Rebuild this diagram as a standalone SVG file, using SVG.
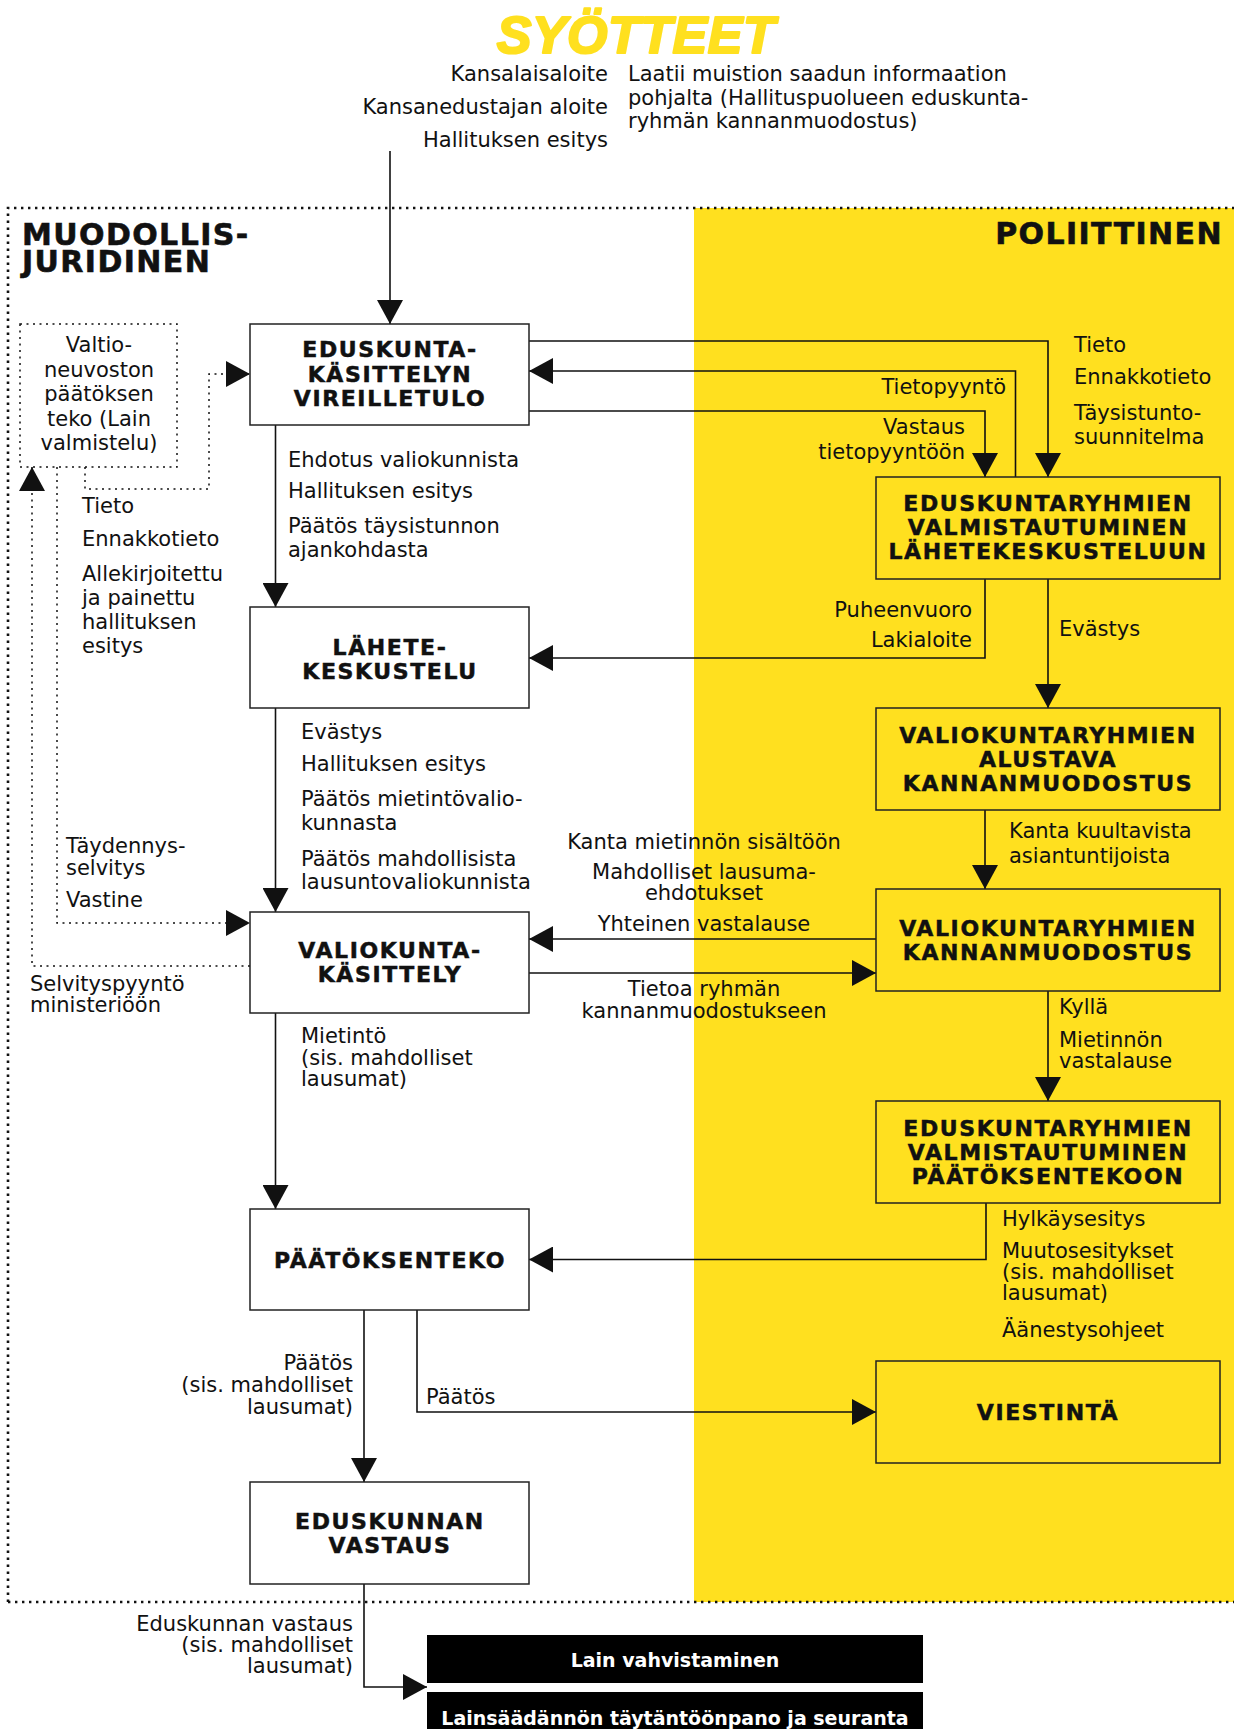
<svg xmlns="http://www.w3.org/2000/svg" width="1234" height="1729" viewBox="0 0 1234 1729">
<defs>
<style>
.t{font-family:"DejaVu Sans",sans-serif;font-size:21px;fill:#111}
.e{text-anchor:end}
.m{text-anchor:middle}
.h{font-family:"DejaVu Sans",sans-serif;font-weight:bold;font-size:22px;letter-spacing:1.6px;text-anchor:middle;fill:#111;stroke:#111;stroke-width:0.5}
.sec{font-family:"DejaVu Sans",sans-serif;font-weight:bold;font-size:30px;letter-spacing:1.4px;fill:#111;stroke:#111;stroke-width:0.6}
.box{fill:#fff;stroke:#222;stroke-width:1.5}
.ybox{fill:#FFE01F;stroke:#222;stroke-width:1.5}
.ln{fill:none;stroke:#111;stroke-width:1.6}
.dl{fill:none;stroke:#111;stroke-width:1.5;stroke-dasharray:2 4.5}
.blk{fill:#000}
.wt{font-family:"DejaVu Sans",sans-serif;font-weight:bold;font-size:19px;fill:#fff;text-anchor:middle}
</style>
<marker id="ah" markerUnits="userSpaceOnUse" markerWidth="24" markerHeight="26" refX="24" refY="13" orient="auto" viewBox="0 0 24 26"><path d="M0,0L24,13L0,26z" fill="#111"/></marker>
</defs>
<rect x="0" y="0" width="1234" height="1729" fill="#fff"/>
<g id="background">
<rect x="694" y="208" width="540" height="1394" fill="#FFE01F"/>
<path d="M8,1602V208H1234M8,1602H1234" fill="none" stroke="#111" stroke-width="2.6" stroke-dasharray="2.4 4.6"/>
<text x="636" y="53" font-family="'Liberation Sans',Arial,sans-serif" font-weight="900" font-style="italic" font-size="52" letter-spacing="0.5" fill="#FFE01F" stroke="#FFE01F" stroke-width="2.2" stroke-linejoin="round" text-anchor="middle">SYÖTTEET</text>
<text class="sec" x="22" y="245">MUODOLLIS-<tspan x="22" dy="27">JURIDINEN</tspan></text>
<text class="sec" x="1223" y="244" text-anchor="end" letter-spacing="2.3">POLIITTINEN</text>
<text class="t e" x="608" y="81">Kansalaisaloite</text>
<text class="t e" x="608" y="114">Kansanedustajan aloite</text>
<text class="t e" x="608" y="147">Hallituksen esitys</text>
<text class="t" x="628" y="81">Laatii muistion saadun informaation</text>
<text class="t" x="628" y="105">pohjalta (Hallituspuolueen eduskunta-</text>
<text class="t" x="628" y="128">ryhmän kannanmuodostus)</text>
</g>
<g id="connectors">
<path class="ln" d="M390,151V324" marker-end="url(#ah)"/>
<path class="ln" d="M275.5,425V607" marker-end="url(#ah)"/>
<path class="ln" d="M275.5,708V912" marker-end="url(#ah)"/>
<path class="ln" d="M275.5,1013V1209" marker-end="url(#ah)"/>
<path class="ln" d="M364,1310V1482" marker-end="url(#ah)"/>
<path class="ln" d="M417,1310V1412H876" marker-end="url(#ah)"/>
<path class="ln" d="M364,1584V1687H427" marker-end="url(#ah)"/>
<path class="ln" d="M529,341H1048V477" marker-end="url(#ah)"/>
<path class="ln" d="M1015.5,477V371H529" marker-end="url(#ah)"/>
<path class="ln" d="M529,411H985V477" marker-end="url(#ah)"/>
<path class="ln" d="M985,579V658H529" marker-end="url(#ah)"/>
<path class="ln" d="M1048,579V708" marker-end="url(#ah)"/>
<path class="ln" d="M985,810V889" marker-end="url(#ah)"/>
<path class="ln" d="M876,939H529" marker-end="url(#ah)"/>
<path class="ln" d="M529,973H876" marker-end="url(#ah)"/>
<path class="ln" d="M1048,991V1101" marker-end="url(#ah)"/>
<path class="ln" d="M986,1203V1259.5H529" marker-end="url(#ah)"/>
<path class="dl" d="M85,467V489H209V374H250" marker-end="url(#ah)"/>
<path class="dl" d="M250,966H32V467" marker-end="url(#ah)"/>
<path class="dl" d="M57,467V923H250" marker-end="url(#ah)"/>
</g>
<g id="edge-labels">
<text class="t" x="288" y="467">Ehdotus valiokunnista</text>
<text class="t" x="288" y="498">Hallituksen esitys</text>
<text class="t" x="288" y="533">Päätös täysistunnon</text>
<text class="t" x="288" y="557">ajankohdasta</text>
<text class="t" x="301" y="739">Evästys</text>
<text class="t" x="301" y="771">Hallituksen esitys</text>
<text class="t" x="301" y="806">Päätös mietintövalio-</text>
<text class="t" x="301" y="830">kunnasta</text>
<text class="t" x="301" y="866">Päätös mahdollisista</text>
<text class="t" x="301" y="889">lausuntovaliokunnista</text>
<text class="t" x="301" y="1043">Mietintö</text>
<text class="t" x="301" y="1065">(sis. mahdolliset</text>
<text class="t" x="301" y="1086">lausumat)</text>
<text class="t e" x="353" y="1370">Päätös</text>
<text class="t e" x="353" y="1392">(sis. mahdolliset</text>
<text class="t e" x="353" y="1414">lausumat)</text>
<text class="t" x="426" y="1404">Päätös</text>
<text class="t e" x="353" y="1631">Eduskunnan vastaus</text>
<text class="t e" x="353" y="1652">(sis. mahdolliset</text>
<text class="t e" x="353" y="1673">lausumat)</text>
<text class="t" x="82" y="513">Tieto</text>
<text class="t" x="82" y="546">Ennakkotieto</text>
<text class="t" x="82" y="581">Allekirjoitettu</text>
<text class="t" x="82" y="605">ja painettu</text>
<text class="t" x="82" y="629">hallituksen</text>
<text class="t" x="82" y="653">esitys</text>
<text class="t" x="66" y="853">Täydennys-</text>
<text class="t" x="66" y="875">selvitys</text>
<text class="t" x="66" y="907">Vastine</text>
<text class="t" x="30" y="991">Selvityspyyntö</text>
<text class="t" x="30" y="1012">ministeriöön</text>
<text class="t" x="1074" y="352">Tieto</text>
<text class="t" x="1074" y="384">Ennakkotieto</text>
<text class="t" x="1074" y="420">Täysistunto-</text>
<text class="t" x="1074" y="444">suunnitelma</text>
<text class="t e" x="1006" y="394">Tietopyyntö</text>
<text class="t e" x="965" y="434">Vastaus</text>
<text class="t e" x="965" y="459">tietopyyntöön</text>
<text class="t e" x="972" y="617">Puheenvuoro</text>
<text class="t e" x="972" y="647">Lakialoite</text>
<text class="t" x="1059" y="636">Evästys</text>
<text class="t" x="1009" y="838">Kanta kuultavista</text>
<text class="t" x="1009" y="863">asiantuntijoista</text>
<text class="t m" x="704" y="849">Kanta mietinnön sisältöön</text>
<text class="t m" x="704" y="879">Mahdolliset lausuma-</text>
<text class="t m" x="704" y="900">ehdotukset</text>
<text class="t m" x="704" y="931">Yhteinen vastalause</text>
<text class="t m" x="704" y="996">Tietoa ryhmän</text>
<text class="t m" x="704" y="1018">kannanmuodostukseen</text>
<text class="t" x="1059" y="1014">Kyllä</text>
<text class="t" x="1059" y="1047">Mietinnön</text>
<text class="t" x="1059" y="1068">vastalause</text>
<text class="t" x="1002" y="1226">Hylkäysesitys</text>
<text class="t" x="1002" y="1258">Muutosesitykset</text>
<text class="t" x="1002" y="1279">(sis. mahdolliset</text>
<text class="t" x="1002" y="1300">lausumat)</text>
<text class="t" x="1002" y="1337">Äänestysohjeet</text>
</g>
<g id="valtioneuvosto">
<rect x="20" y="324" width="157" height="143" fill="none" stroke="#111" stroke-width="1.5" stroke-dasharray="2 4.5"/>
<text class="t m" x="99" y="352">Valtio-</text>
<text class="t m" x="99" y="376.5">neuvoston</text>
<text class="t m" x="99" y="401">päätöksen</text>
<text class="t m" x="99" y="425.5">teko (Lain</text>
<text class="t m" x="99" y="450">valmistelu)</text>
</g>
<g id="vireilletulo">
<rect class="box" x="250" y="324" width="279" height="101"/>
<text class="h" x="390" y="357">EDUSKUNTA-</text>
<text class="h" x="390" y="382">KÄSITTELYN</text>
<text class="h" x="390" y="406">VIREILLETULO</text>
</g>
<g id="lahetekeskustelu">
<rect class="box" x="250" y="607" width="279" height="101"/>
<text class="h" x="390" y="655">LÄHETE-</text>
<text class="h" x="390" y="679">KESKUSTELU</text>
</g>
<g id="valiokuntakasittely">
<rect class="box" x="250" y="912" width="279" height="101"/>
<text class="h" x="390" y="958">VALIOKUNTA-</text>
<text class="h" x="390" y="982">KÄSITTELY</text>
</g>
<g id="paatoksenteko">
<rect class="box" x="250" y="1209" width="279" height="101"/>
<text class="h" x="390" y="1268">PÄÄTÖKSENTEKO</text>
</g>
<g id="eduskunnan-vastaus">
<rect class="box" x="250" y="1482" width="279" height="102"/>
<text class="h" x="390" y="1529">EDUSKUNNAN</text>
<text class="h" x="390" y="1553">VASTAUS</text>
</g>
<g id="ryhmat-lahete">
<rect class="ybox" x="876" y="477" width="344" height="102"/>
<text class="h" x="1048" y="511">EDUSKUNTARYHMIEN</text>
<text class="h" x="1048" y="535">VALMISTAUTUMINEN</text>
<text class="h" x="1048" y="559">LÄHETEKESKUSTELUUN</text>
</g>
<g id="alustava">
<rect class="ybox" x="876" y="708" width="344" height="102"/>
<text class="h" x="1048" y="743">VALIOKUNTARYHMIEN</text>
<text class="h" x="1048" y="767">ALUSTAVA</text>
<text class="h" x="1048" y="791">KANNANMUODOSTUS</text>
</g>
<g id="kannanmuodostus">
<rect class="ybox" x="876" y="889" width="344" height="102"/>
<text class="h" x="1048" y="936">VALIOKUNTARYHMIEN</text>
<text class="h" x="1048" y="960">KANNANMUODOSTUS</text>
</g>
<g id="ryhmat-paatos">
<rect class="ybox" x="876" y="1101" width="344" height="102"/>
<text class="h" x="1048" y="1136">EDUSKUNTARYHMIEN</text>
<text class="h" x="1048" y="1160">VALMISTAUTUMINEN</text>
<text class="h" x="1048" y="1184">PÄÄTÖKSENTEKOON</text>
</g>
<g id="viestinta">
<rect class="ybox" x="876" y="1361" width="344" height="102"/>
<text class="h" x="1048" y="1420">VIESTINTÄ</text>
</g>
<g id="lain-vahvistaminen">
<rect class="blk" x="427" y="1635" width="496" height="48"/>
<text class="wt" x="675" y="1667">Lain vahvistaminen</text>
</g>
<g id="taytantoonpano">
<rect class="blk" x="427" y="1692" width="496" height="45"/>
<text class="wt" x="675" y="1725">Lainsäädännön täytäntöönpano ja seuranta</text>
</g>
</svg>
